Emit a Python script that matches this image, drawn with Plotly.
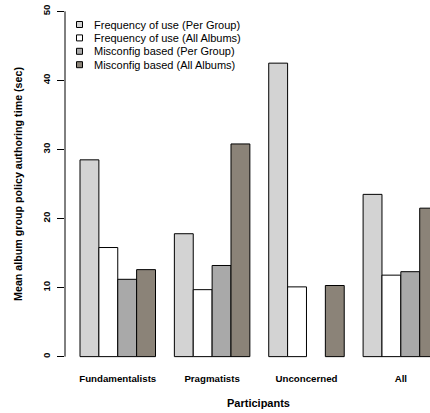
import plotly.graph_objects as go

# Mean album group policy authoring time (sec) per participant group
groups = ["Fundamentalists", "Pragmatists", "Unconcerned", "All"]
freq_per_group = [28.5, 17.8, 42.5, 23.5]
freq_all_albums = [15.8, 9.7, 10.1, 11.8]
misconfig_per_group = [11.2, 13.2, None, 12.3]
misconfig_all_albums = [12.6, 30.8, 10.3, 21.5]

series = [
    ("Frequency of use (Per Group)", freq_per_group, "#d3d3d3"),
    ("Frequency of use (All Albums)", freq_all_albums, "#ffffff"),
    ("Misconfig based (Per Group)", misconfig_per_group, "#a9a9a9"),
    ("Misconfig based (All Albums)", misconfig_all_albums, "#8b8378"),
]
y_ticks = [0, 10, 20, 30, 40, 50]

FONT = "Liberation Sans, Arial, Helvetica, sans-serif"
W, H = 430, 413
M_L, M_R, M_T, M_B = 65, 0, 1, 46
PW, PH = W - M_L - M_R, H - M_T - M_B


def px_x(px):
    return (px - M_L) / PW


def px_y(py):
    return (H - M_B - py) / PH


fig = go.Figure()
for name, vals, color in series:
    fig.add_trace(go.Bar(
        name=name, x=groups, y=vals, showlegend=False,
        marker=dict(color=color, line=dict(color="#000000", width=1)),
    ))

# y axis line spans only the tick range, as in base R graphics
fig.add_shape(type="line", xref="paper", yref="y", x0=0, x1=0,
              y0=y_ticks[0], y1=y_ticks[-1],
              line=dict(color="#000000", width=1))

# Legend in the upper left: small filled squares with labels
for i, (name, _, color) in enumerate(series):
    cy = 24.5 + 13.4 * i
    fig.add_shape(type="rect", xref="paper", yref="paper",
                  x0=px_x(76.5), x1=px_x(82.5),
                  y0=px_y(cy + 3), y1=px_y(cy - 3),
                  fillcolor=color, line=dict(color="#000000", width=1))
    fig.add_annotation(text=name, xref="paper", yref="paper",
                       x=px_x(92), y=px_y(cy), xanchor="left", yanchor="middle",
                       showarrow=False,
                       font=dict(family=FONT, size=11, color="#000000"))

fig.add_annotation(text="<b>Participants</b>", xref="paper", yref="paper",
                   x=px_x(258.5), y=px_y(403), xanchor="center", yanchor="middle",
                   showarrow=False,
                   font=dict(family=FONT, size=11, color="#000000"))

fig.update_layout(
    width=W, height=H,
    margin=dict(l=M_L, r=M_R, t=M_T, b=M_B),
    paper_bgcolor="#ffffff", plot_bgcolor="#ffffff",
    barmode="group", bargap=0.2, bargroupgap=0,
    font=dict(family=FONT, color="#000000"),
    showlegend=False,
    xaxis=dict(range=[-0.559, 3.309], showline=False, showgrid=False,
               zeroline=False, ticks="", tickfont=dict(size=9.7, family=FONT),
               tickvals=groups, ticktext=[f"<b>{g}</b>" for g in groups],
               ticklabelstandoff=4),
    yaxis=dict(range=[-1.5, 51.5], showline=False, showgrid=False,
               zeroline=False, ticks="outside", ticklen=7, tickwidth=1,
               tickcolor="#000000", tickvals=y_ticks,
               ticktext=[f"<b>{v}</b>" for v in y_ticks], tickangle=-90,
               tickfont=dict(size=9.7, family=FONT), ticklabelstandoff=3,
               title=dict(text="<b>Mean album group policy authoring time (sec)</b>",
                          font=dict(size=10.7, family=FONT), standoff=16)),
)

fig.write_html("out.html")
